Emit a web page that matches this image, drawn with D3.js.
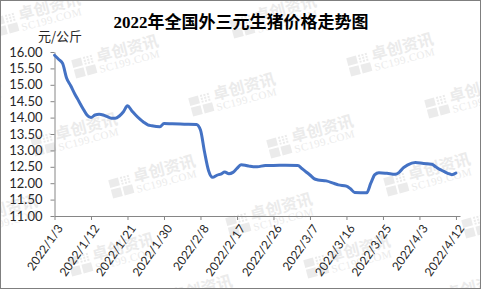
<!DOCTYPE html>
<html>
<head>
<meta charset="utf-8">
<script src="https://cdn.jsdelivr.net/npm/d3@7"></script>
<style>
  html, body { margin: 0; padding: 0; background: #fff; }
  svg { display: block; }
</style>
</head>
<body>
<div id="chart"></div>
<script>
// 2022 national 外三元 hog price, 元/公斤
const dates = [
  '2022-01-03', '2022-01-04', '2022-01-05', '2022-01-06', '2022-01-07', '2022-01-08',
  '2022-01-09', '2022-01-10', '2022-01-11', '2022-01-12', '2022-01-13', '2022-01-14',
  '2022-01-15', '2022-01-16', '2022-01-17', '2022-01-18', '2022-01-19', '2022-01-20',
  '2022-01-21', '2022-01-22', '2022-01-23', '2022-01-24', '2022-01-25', '2022-01-26',
  '2022-01-27', '2022-01-29', '2022-01-30', '2022-02-01', '2022-02-04', '2022-02-07',
  '2022-02-08', '2022-02-09', '2022-02-10', '2022-02-11', '2022-02-12', '2022-02-13',
  '2022-02-14', '2022-02-15', '2022-02-16', '2022-02-17', '2022-02-18', '2022-02-19',
  '2022-02-20', '2022-02-21', '2022-02-22', '2022-02-24', '2022-02-26', '2022-03-01',
  '2022-03-04', '2022-03-05', '2022-03-06', '2022-03-07', '2022-03-08', '2022-03-09',
  '2022-03-11', '2022-03-13', '2022-03-14', '2022-03-16', '2022-03-17', '2022-03-18',
  '2022-03-21', '2022-03-22', '2022-03-23', '2022-03-24', '2022-03-26', '2022-03-28',
  '2022-03-29', '2022-03-30', '2022-03-31', '2022-04-02', '2022-04-04', '2022-04-06',
  '2022-04-07', '2022-04-08', '2022-04-09', '2022-04-10', '2022-04-11', '2022-04-12'
]
const prices = [
  15.90, 15.78, 15.65, 15.20, 14.97, 14.72,
  14.50, 14.28, 14.08, 14.00, 14.08, 14.10,
  14.08, 14.03, 13.98, 13.98, 14.05, 14.18,
  14.36, 14.22, 14.08, 13.96, 13.86, 13.78,
  13.75, 13.72, 13.82, 13.81, 13.80, 13.79,
  13.62, 12.95, 12.38, 12.18, 12.24, 12.28,
  12.34, 12.29, 12.33, 12.45, 12.56, 12.55,
  12.52, 12.50, 12.50, 12.54, 12.54, 12.55,
  12.54, 12.45, 12.35, 12.25, 12.14, 12.10,
  12.07, 11.99, 11.95, 11.91, 11.83, 11.72,
  11.71, 12.00, 12.26, 12.32, 12.30, 12.27,
  12.33, 12.47, 12.55, 12.63, 12.60, 12.58,
  12.50, 12.42, 12.36, 12.30, 12.26, 12.31
]
const xTickLabels = [
  '2022/1/3', '2022/1/12', '2022/1/21', '2022/1/30', '2022/2/8', '2022/2/17',
  '2022/2/26', '2022/3/7', '2022/3/16', '2022/3/25', '2022/4/3', '2022/4/12'
]
const yTicks = [11, 11.5, 12, 12.5, 13, 13.5, 14, 14.5, 15, 15.5, 16]

const width = 481
const height = 289
const plot = { left: 54.5, right: 460, top: 52, bottom: 216 }
const axisColor = '#868686'
const textColor = '#262626'

const parseIso = d3.timeParse('%Y-%m-%d')
const parseLabel = d3.timeParse('%Y/%m/%d')
const data = dates.map((d, i) => ({ date: parseIso(d), value: prices[i] }))
const tickDates = xTickLabels.map(parseLabel)

const svg = d3.select('#chart')
  .append('svg')
  .attr('width', width)
  .attr('height', height)

svg.append('rect')
  .attr('width', width)
  .attr('height', height)
  .attr('fill', '#fff')

// watermark tiles, clipped to the frame
svg.append('defs').append('clipPath')
  .attr('id', 'frame')
  .append('rect')
  .attr('width', width)
  .attr('height', height)

const marks = svg.append('g')
  .attr('class', 'watermarks')
  .attr('clip-path', 'url(#frame)')
const origin = [40, 15]
const u = [195, 80]
const v = [37, 120]
const w = [78, 42]
for (let i = -2; i <= 3; i++) {
  for (let j = -2; j <= 3; j++) {
    for (let k = 0; k <= 1; k++) {
      const cx = origin[0] + i * u[0] + j * v[0] + k * w[0]
      const cy = origin[1] + i * u[1] + j * v[1] + k * w[1]
      if (cx < -80 || cx > width + 60 || cy < -30 || cy > height + 30) continue
      const g = marks.append('g')
        .attr('transform', `translate(${cx}, ${cy}) rotate(-15)`)
        .attr('fill', '#ebebeb')
      g.append('rect').attr('x', -46).attr('y', -9).attr('width', 10).attr('height', 8)
      g.append('rect').attr('x', -46).attr('y', 1).attr('width', 10).attr('height', 9)
      g.append('rect').attr('x', -34).attr('y', 1).attr('width', 10).attr('height', 9)
      for (let a = 0; a < 3; a++) {
        for (let b = 0; b < 3; b++) {
          g.append('rect')
            .attr('x', -34 + a * 3.5).attr('y', -9 + b * 3)
            .attr('width', 2).attr('height', 2)
        }
      }
      g.append('text')
        .attr('x', -21).attr('y', 0)
        .style('font-family', '"Noto Sans CJK SC", sans-serif')
        .style('font-weight', 'bold')
        .style('font-size', '16px')
        .text('卓创资讯')
      g.append('text')
        .attr('x', -21).attr('y', 11)
        .style('font-family', '"Liberation Serif", serif')
        .style('font-size', '11px')
        .style('letter-spacing', '0.5px')
        .text('SC199.COM')
    }
  }
}

const x = d3.scaleTime()
  .domain([parseIso('2022-01-03'), parseIso('2022-04-13')])
  .range([plot.left, plot.right])

const y = d3.scaleLinear()
  .domain([11, 16])
  .range([plot.bottom, plot.top])

const xAxis = svg.append('g')
  .attr('class', 'x-axis')
  .attr('transform', `translate(0, ${plot.bottom})`)
  .call(d3.axisBottom(x)
    .tickValues(tickDates)
    .tickSizeInner(4)
    .tickSizeOuter(0)
    .tickFormat((d, i) => xTickLabels[i]))

xAxis.selectAll('text')
  .attr('x', 0)
  .attr('y', 0)
  .attr('dy', '0.35em')
  .attr('text-anchor', 'end')
  .attr('transform', 'translate(5, 10) rotate(-55)')
  .style('font-family', 'Lato, "Liberation Sans", sans-serif')
  .style('font-size', '12px')
  .attr('fill', textColor)

const yAxis = svg.append('g')
  .attr('class', 'y-axis')
  .attr('transform', `translate(${plot.left}, 0)`)
  .call(d3.axisLeft(y)
    .tickValues(yTicks)
    .tickSizeInner(4)
    .tickSizeOuter(0)
    .tickPadding(8)
    .tickFormat(d3.format('.2f')))

yAxis.selectAll('text')
  .style('font-family', 'Lato, "Liberation Sans", sans-serif')
  .style('font-size', '13px')
  .attr('fill', textColor)

svg.selectAll('.domain, .tick line')
  .attr('stroke', axisColor)
  .attr('stroke-width', 1)

svg.append('path')
  .datum(data)
  .attr('class', 'data-line')
  .attr('fill', 'none')
  .attr('stroke', '#4472c4')
  .attr('stroke-width', 3)
  .attr('stroke-linejoin', 'round')
  .attr('stroke-linecap', 'round')
  .attr('d', d3.line()
    .x(d => x(d.date))
    .y(d => y(d.value))
    .curve(d3.curveMonotoneX))

svg.append('text')
  .attr('x', 241)
  .attr('y', 28)
  .attr('text-anchor', 'middle')
  .style('font-family', '"Liberation Serif", "Noto Sans CJK SC", serif')
  .style('font-weight', 'bold')
  .style('font-size', '17px')
  .attr('fill', '#000')
  .text('2022年全国外三元生猪价格走势图')

svg.append('text')
  .attr('x', 38)
  .attr('y', 41)
  .style('font-family', '"Noto Sans CJK SC", sans-serif')
  .style('font-size', '13px')
  .attr('fill', textColor)
  .text('元/公斤')

svg.append('rect')
  .attr('x', 0.5)
  .attr('y', 0.5)
  .attr('width', width - 1)
  .attr('height', height - 1)
  .attr('fill', 'none')
  .attr('stroke', '#7f7f7f')
</script>
</body>
</html>
